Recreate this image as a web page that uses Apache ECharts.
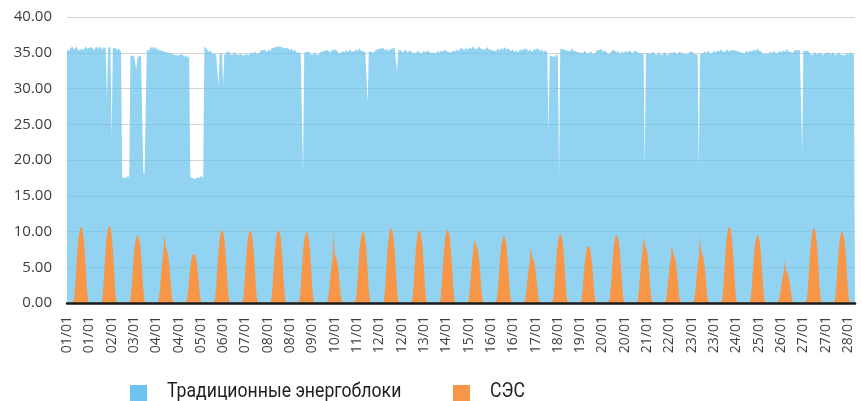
<!DOCTYPE html>
<html>
<head>
<meta charset="utf-8">
<script src="https://cdn.jsdelivr.net/npm/echarts@6/dist/echarts.min.js"></script>
<style>
  html, body { margin: 0; padding: 0; background: #ffffff; }
  #chart { width: 862px; height: 401px; }
</style>
</head>
<body>
<div id="chart"></div>
<script>
// Day labels (January), one row of 24 hourly values per day
const dayLabels = ['01/01','02/01','03/01','04/01','05/01','06/01','07/01','08/01','09/01','10/01',
  '11/01','12/01','13/01','14/01','15/01','16/01','17/01','18/01','19/01','20/01',
  '21/01','22/01','23/01','24/01','25/01','26/01','27/01','28/01'];

const seriesNames = ['Традиционные энергоблоки', 'СЭС'];

const yTicks = [0, 5, 10, 15, 20, 25, 30, 35, 40];

// Conventional generating units, MW, hourly
const traditionalByDay = [
  [35.4,35.6,35.3,35.7,35.5,35.8,35.4,35.6,35.9,35.5,35.7,35.3, 35.6,35.8,35.4,35.5,35.9,35.6,35.4,35.7,35.5,35.8,35.6,35.4],
  [35.6,35.9,35.5,35.8,36.0,35.7,35.4,35.8,35.9,35.6,28.2,35.7, 35.5,35.8,22.9,35.6,35.4,35.7,35.5,35.3,35.6,35.4,35.2,17.6],
  [17.8,17.5,17.3,17.6,17.9,17.4,34.8,34.5,34.3,34.6,34.4,32.7, 34.2,34.5,34.3,34.6,34.4,18.2,17.9,18.1,35.4,35.6,35.3,35.7],
  [35.6,35.8,35.5,35.9,35.6,35.7,35.4,35.6,35.3,35.5,35.2,35.4, 35.1,35.3,35.0,35.2,34.9,35.1,34.8,35.0,34.7,34.9,34.6,34.8],
  [34.7,34.5,34.8,34.6,34.4,34.7,34.5,34.3,34.6,17.6,17.4,17.5, 17.7,17.3,17.5,17.6,17.4,17.5,17.8,17.6,17.5,35.9,35.7,35.5],
  [35.3,35.1,35.4,35.0,35.2,34.9,35.1,34.8,35.0,30.3,34.9,35.1, 34.8,30.5,35.0,34.7,35.1,34.9,35.2,34.8,35.0,34.7,35.1,34.9],
  [34.8,35.0,34.7,34.5,34.9,34.6,34.4,34.7,34.5,34.8,35.0,34.7, 34.9,35.1,34.8,35.0,35.2,34.9,35.1,34.8,35.0,35.3,35.1,35.4],
  [35.2,35.4,35.1,35.3,35.5,35.2,35.6,35.4,35.7,35.5,35.8,35.6, 35.9,36.1,35.8,36.0,35.7,35.9,35.6,35.4,35.7,35.5,35.3,35.6],
  [35.4,35.2,35.5,35.1,35.3,35.0,35.2,34.9,35.1,18.2,35.0,34.8, 35.1,34.9,35.2,34.8,35.0,34.7,34.9,35.1,34.8,35.0,34.7,34.9],
  [35.1,34.9,35.2,35.0,35.3,35.1,35.4,35.2,35.0,35.3,35.1,35.4, 35.2,35.5,35.3,35.0,35.2,34.9,35.1,35.3,35.0,35.2,35.4,35.1],
  [35.3,35.5,35.2,35.4,35.1,35.3,35.5,35.2,35.4,35.6,35.3,35.5, 35.2,35.4,35.1,35.3,28.0,35.2,35.4,35.1,35.3,35.0,35.2,35.4],
  [35.2,35.5,35.3,35.6,35.4,35.7,35.5,35.3,35.6,35.4,35.2,35.5, 35.3,35.6,35.4,35.7,35.5,32.4,35.3,35.1,35.4,35.2,35.0,35.3],
  [35.1,35.3,35.0,35.2,35.4,35.1,35.3,35.0,35.2,34.9,35.1,35.3, 35.0,35.2,34.9,35.1,35.3,35.0,35.2,35.4,35.1,35.3,35.0,35.2],
  [35.0,35.2,34.9,35.1,35.3,35.0,35.2,35.4,35.1,35.3,35.5,35.2, 35.4,35.1,35.3,35.0,35.2,35.4,35.1,35.3,35.5,35.2,35.4,35.6],
  [35.4,35.6,35.3,35.5,35.7,35.4,35.6,35.8,35.5,35.7,35.9,35.6, 35.8,35.5,35.7,35.9,35.6,35.8,35.5,35.7,35.4,35.6,35.8,35.5],
  [35.7,35.4,35.6,35.3,35.5,35.2,35.4,35.6,35.3,35.5,35.7,35.4, 35.6,35.8,35.5,35.3,35.6,35.4,35.2,35.5,35.3,35.1,35.4,35.2],
  [35.0,35.3,35.1,35.4,35.2,35.5,35.3,35.6,35.4,35.2,35.5,35.3, 35.1,35.4,35.2,35.5,35.3,35.6,35.4,35.2,35.5,35.3,35.1,35.4],
  [35.2,35.0,23.6,34.6,34.8,34.5,34.7,34.4,34.6,34.8,34.5,17.5, 35.6,35.8,35.5,35.7,35.4,35.6,35.3,35.5,35.2,35.4,35.6,35.3],
  [35.5,35.2,35.4,35.1,35.3,35.0,35.2,34.9,35.1,35.3,35.0,35.2, 34.8,35.0,35.2,34.9,35.1,34.8,35.0,35.3,35.1,35.4,35.2,35.5],
  [35.3,35.1,35.4,35.2,34.9,35.1,34.8,35.0,35.3,35.1,35.4,35.2, 35.0,35.3,35.1,34.8,35.0,35.2,34.9,35.1,35.3,35.0,35.2,35.4],
  [35.1,35.3,35.0,35.2,35.4,35.1,35.3,35.0,35.2,34.9,35.1,34.8, 19.0,35.0,35.2,34.9,35.1,34.8,35.0,35.2,34.9,35.1,34.7,34.9],
  [35.1,34.8,35.0,34.7,34.9,35.1,34.8,35.0,34.7,34.9,35.1,34.8, 35.0,35.2,34.9,35.1,34.8,35.0,35.2,34.9,34.7,34.9,35.1,34.8],
  [35.0,34.8,35.1,34.9,35.2,34.9,35.1,34.8,35.0,34.7,18.7,34.9, 35.1,34.8,35.0,35.2,34.9,35.1,35.3,35.0,35.2,34.9,35.1,35.3],
  [35.0,35.2,35.4,35.1,35.3,35.5,35.2,35.4,35.1,35.3,35.5,35.2, 35.0,35.3,35.1,35.4,35.6,35.3,35.5,35.2,35.4,35.1,35.3,35.0],
  [35.2,34.9,35.1,35.3,35.0,35.2,35.4,35.1,35.3,35.5,35.2,35.4, 35.6,35.3,35.5,35.2,35.0,34.8,34.6,34.9,35.1,34.8,35.0,35.2],
  [34.9,35.1,35.3,35.0,35.2,34.9,35.1,35.3,35.0,35.2,35.4,35.1, 35.3,35.5,35.2,35.4,35.1,35.3,35.0,35.2,35.4,35.6,35.3,35.5],
  [35.4,35.2,21.0,35.3,35.5,35.2,35.0,35.3,35.1,34.8,35.0,34.7, 34.9,35.1,34.8,34.6,34.9,34.7,35.0,34.8,34.6,34.9,34.7,35.0],
  [34.8,35.0,34.7,34.9,35.1,34.8,35.0,34.7,34.9,35.1,34.8,35.0, 34.7,34.9,34.6,34.8,35.0,34.7,34.9,35.1,34.8,34.6,34.9,34.7]
];

// Solar plant (СЭС), MW, hourly
const solarByDay = [
  [0,0,0,0,0,0, 0.5,2.4,5.1,7.7,9.4,10.4,10.7,10.4,9.4,7.5,4.8,1.9,0.3, 0,0,0,0,0],
  [0,0,0,0,0,0, 0.5,2.4,5.2,7.8,9.5,10.5,10.8,10.5,9.5,7.6,4.9,1.9,0.3, 0,0,0,0,0],
  [0,0,0,0,0,0, 0.5,2.1,4.6,6.8,8.4,9.2,9.5,9.2,8.4,6.7,4.3,1.7,0.3, 0,0,0,0,0],
  [0,0,0,0,0,0, 0.4,1.7,3.7,5.6,6.9,9.8,7.8,7.6,6.9,5.5,3.5,1.4,0.2, 0,0,0,0,0],
  [0,0,0,0,0,0, 0.4,1.5,3.4,5.0,6.2,6.8,7.0,6.8,6.2,4.9,3.2,1.3,0.2, 0,0,0,0,0],
  [0,0,0,0,0,0, 0.5,2.2,4.9,7.3,9.0,9.9,10.2,9.9,9.0,7.1,4.6,1.8,0.3, 0,0,0,0,0],
  [0,0,0,0,0,0, 0.5,2.3,4.9,7.2,9.0,9.8,10.2,9.9,8.9,7.2,4.5,1.8,0.3, 0,0,0,0,0],
  [0,0,0,0,0,0, 0.5,2.2,4.9,7.3,8.9,9.9,10.2,9.9,9.0,7.1,4.6,1.9,0.3, 0,0,0,0,0],
  [0,0,0,0,0,0, 0.5,2.2,4.8,7.2,8.8,9.6,10.0,9.6,8.8,7.0,4.5,1.8,0.3, 0,0,0,0,0],
  [0,0,0,0,0,0, 0.3,1.5,3.3,4.9,6.0,9.8,6.8,6.6,6.0,4.8,3.1,1.2,0.2, 0,0,0,0,0],
  [0,0,0,0,0,0, 0.5,2.2,4.8,7.2,8.8,9.7,10.0,9.7,8.8,7.0,4.5,1.8,0.3, 0,0,0,0,0],
  [0,0,0,0,0,0, 0.5,2.3,5.0,7.6,9.2,10.2,10.5,10.2,9.2,7.4,4.7,1.9,0.3, 0,0,0,0,0],
  [0,0,0,0,0,0, 0.5,2.2,4.9,7.3,9.0,9.9,10.2,9.9,9.0,7.1,4.6,1.8,0.3, 0,0,0,0,0],
  [0,0,0,0,0,0, 0.5,2.3,4.9,7.4,9.1,10.0,10.3,10.0,9.1,7.2,4.6,1.9,0.3, 0,0,0,0,0],
  [0,0,0,0,0,0, 0.4,1.8,4.0,6.0,7.3,8.9,8.3,8.1,7.3,5.8,3.7,1.5,0.2, 0,0,0,0,0],
  [0,0,0,0,0,0, 0.5,2.1,4.5,6.8,8.3,9.1,9.4,9.1,8.3,6.6,4.2,1.7,0.3, 0,0,0,0,0],
  [0,0,0,0,0,0, 0.3,1.4,3.1,4.7,5.7,8.0,6.5,6.3,5.7,4.6,2.9,1.2,0.2, 0,0,0,0,0],
  [0,0,0,0,0,0, 0.5,2.1,4.7,7.0,8.5,9.4,9.7,9.4,8.5,6.8,4.4,1.7,0.3, 0,0,0,0,0],
  [0,0,0,0,0,0, 0.4,1.8,3.9,5.8,7.1,7.9,8.1,7.9,7.1,5.7,3.6,1.5,0.2, 0,0,0,0,0],
  [0,0,0,0,0,0, 0.5,2.1,4.6,6.8,8.4,9.2,9.5,9.2,8.4,6.7,4.3,1.7,0.3, 0,0,0,0,0],
  [0,0,0,0,0,0, 0.4,1.8,3.9,5.9,7.2,9.3,8.2,8.0,7.2,5.7,3.7,1.5,0.2, 0,0,0,0,0],
  [0,0,0,0,0,0, 0.4,1.5,3.4,5.0,6.2,8.2,7.0,6.8,6.2,4.9,3.2,1.3,0.2, 0,0,0,0,0],
  [0,0,0,0,0,0, 0.4,1.6,3.5,5.2,6.3,9.5,7.2,7.0,6.3,5.0,3.2,1.3,0.2, 0,0,0,0,0],
  [0,0,0,0,0,0, 0.5,2.4,5.1,7.7,9.4,10.4,10.7,10.4,9.4,7.5,4.8,1.9,0.3, 0,0,0,0,0],
  [0,0,0,0,0,0, 0.5,2.1,4.6,6.8,8.4,9.2,9.5,9.2,8.4,6.7,4.3,1.7,0.3, 0,0,0,0,0],
  [0,0,0,0,0,0, 0.2,1.0,2.2,3.3,4.0,6.0,4.6,4.5,4.0,3.2,2.1,0.8,0.1, 0,0,0,0,0],
  [0,0,0,0,0,0, 0.5,2.3,5.0,7.6,9.2,10.2,10.5,10.2,9.2,7.4,4.7,1.9,0.3, 0,0,0,0,0],
  [0,0,0,0,0,0, 0.5,2.2,4.8,7.2,8.8,9.7,10.0,9.7,8.8,7.0,4.5,1.8,0.3, 0,0,0,0,0]
];

// Hourly category axis: each hour carries its day's label
const categories = [];
dayLabels.forEach(function (d) { for (let h = 0; h < 24; h++) categories.push(d); });
const traditional = traditionalByDay.flat();
const solar = solarByDay.flat();

const blue = '#6ec4ee';
const orange = '#f79646';
const legendFont = "21px Roboto, 'Liberation Sans', sans-serif";

// Legend: square swatch + narrow caption for each series
function legendItem(x, color, label) {
  return [
    { type: 'rect', left: x, top: 385, shape: { width: 17, height: 16 }, style: { fill: color } },
    {
      type: 'text', x: x + 37, y: 392, scaleX: 0.84, scaleY: 1,
      style: { text: label, font: legendFont, fill: '#1e1e1e', verticalAlign: 'middle', align: 'left' }
    }
  ];
}

const chart = echarts.init(document.getElementById('chart'), null, { renderer: 'canvas' });

chart.setOption({
  animation: false,
  backgroundColor: '#ffffff',
  grid: { left: 67, right: 7, top: 17, bottom: 98, containLabel: false },
  graphic: legendItem(130, blue, seriesNames[0]).concat(legendItem(453, orange, seriesNames[1])),
  xAxis: {
    type: 'category',
    data: categories,
    boundaryGap: false,
    z: 10,
    axisLine: { show: true, lineStyle: { color: '#1b1b1b', width: 2.5 } },
    axisTick: { show: false },
    axisLabel: {
      interval: 18, rotate: 90, margin: 13,
      fontFamily: "'Open Sans', sans-serif", fontSize: 14, color: '#404040'
    },
    splitLine: { show: false }
  },
  yAxis: {
    type: 'value',
    min: yTicks[0], max: yTicks[yTicks.length - 1], interval: yTicks[1] - yTicks[0],
    axisLine: { show: false },
    axisTick: { show: false },
    axisLabel: {
      margin: 15, fontFamily: "'Open Sans', sans-serif", fontSize: 15, color: '#3d3d3d',
      formatter: function (v) { return v.toFixed(2); }
    },
    splitLine: { show: true, lineStyle: { color: '#d4d4d4', width: 1 } }
  },
  series: [
    {
      name: seriesNames[0], type: 'line', data: traditional,
      showSymbol: false, symbol: 'none',
      itemStyle: { color: blue },
      lineStyle: { width: 0 },
      areaStyle: { color: blue, opacity: 0.75 },
      z: 2
    },
    {
      name: seriesNames[1], type: 'line', data: solar,
      showSymbol: false, symbol: 'none',
      itemStyle: { color: orange },
      lineStyle: { width: 0 },
      areaStyle: { color: orange, opacity: 1 },
      z: 3
    }
  ]
});
</script>
</body>
</html>
